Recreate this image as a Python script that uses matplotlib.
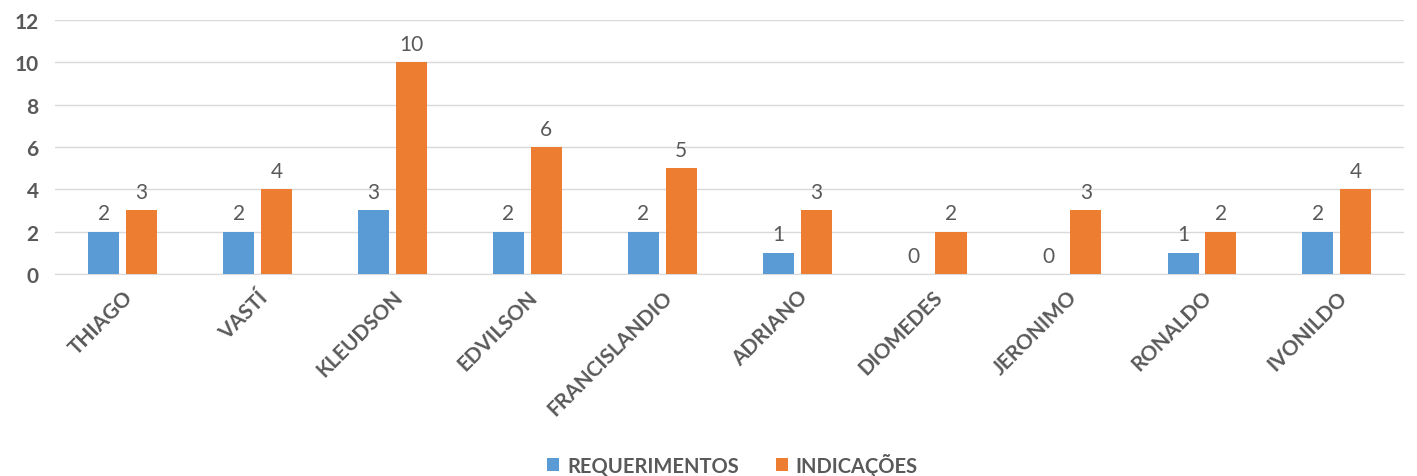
import matplotlib
matplotlib.use("Agg")
import matplotlib.pyplot as plt
import numpy as np

categories = ["THIAGO", "VASTÍ", "KLEUDSON", "EDVILSON", "FRANCISLANDIO",
              "ADRIANO", "DIOMEDES", "JERONIMO", "RONALDO", "IVONILDO"]
requerimentos = [2, 2, 3, 2, 2, 1, 0, 0, 1, 2]
indicacoes = [3, 4, 10, 6, 5, 3, 2, 3, 2, 4]
series_names = ["REQUERIMENTOS", "INDICAÇÕES"]

plt.rcParams['font.family'] = ['Lato', 'DejaVu Sans']
txt = '#595959'
fig = plt.figure(figsize=(14.17, 4.77), dpi=100)
ax = fig.add_axes([0.039, 0.4235, 0.952, 0.5325])

x = np.arange(len(categories))
w = 0.23
off = 0.14
b1 = ax.bar(x - off, requerimentos, w, color='#5B9BD5', label=series_names[0], zorder=3)
b2 = ax.bar(x + off, indicacoes, w, color='#ED7D31', label=series_names[1], zorder=3)
for bars in (b1, b2):
    ax.bar_label(bars, padding=6, fontsize=15, color=txt)

ax.set_xlim(-0.5, len(categories) - 0.5)
ax.set_ylim(0, 12)
ax.set_yticks(range(0, 13, 2))
ax.yaxis.grid(True, color='#D9D9D9', linewidth=1, zorder=0)
for s in ['top', 'right', 'left']:
    ax.spines[s].set_visible(False)
ax.spines['bottom'].set_color('#D9D9D9')
ax.tick_params(axis='both', length=0, colors=txt)
ax.tick_params(axis='y', labelsize=15, pad=12)
ax.set_xticks(x)
ax.set_xticklabels(categories, rotation=45, ha='right', rotation_mode='anchor',
                   fontsize=15, fontweight='bold', color=txt)
ax.tick_params(axis='x', pad=9)
for lab in ax.get_yticklabels():
    lab.set_fontweight('bold')

fig.legend(handles=[b1, b2], labels=series_names, loc='center', bbox_to_anchor=(0.517, 0.025),
           ncol=2, frameon=False, prop={'size': 14.5, 'weight': 'bold'},
           handlelength=0.6, handleheight=0.6,
           columnspacing=1.8, handletextpad=0.4, labelcolor=txt)
fig.savefig('out.png', dpi=100)
